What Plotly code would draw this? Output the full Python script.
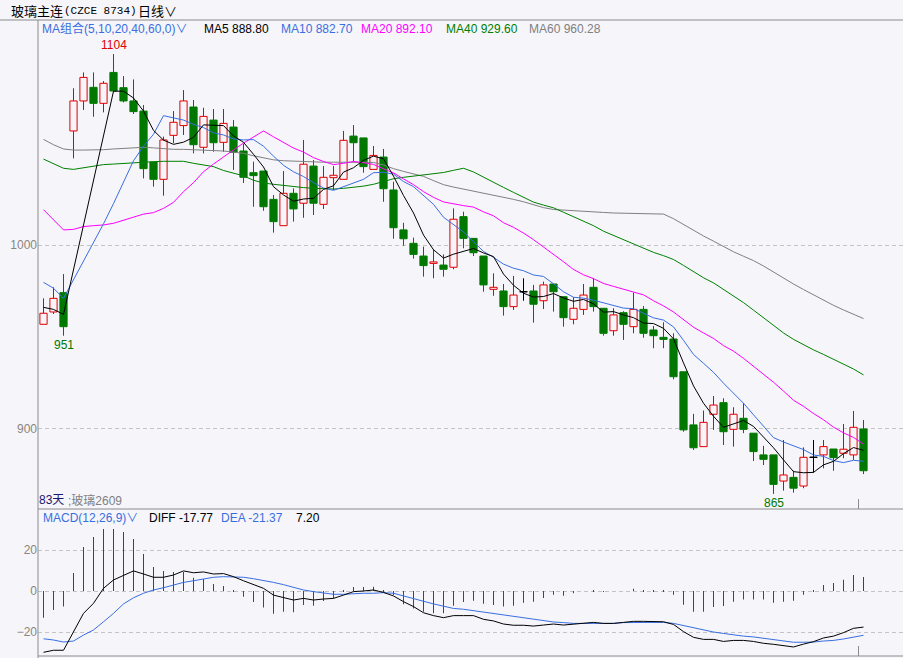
import plotly.graph_objects as go

W, H = 903, 658

# 日线 K线 (83天)
idx = list(range(83))
opens = [
    956.9, 963.6, 974.1, 1062.0, 1078.3, 1085.7, 1077.0, 1093.8, 1085.5, 1078.3,
    1072.8, 1045.1, 1035.7, 1059.6, 1064.9, 1075.0, 1053.1, 1067.9, 1055.8, 1064.1,
    1051.1, 1039.3, 1040.2, 1024.8, 1010.5, 1028.1, 1022.7, 1042.9, 1022.1, 1036.6,
    1035.7, 1059.2, 1058.2, 1041.1, 1047.8, 1029.9, 1008.2, 1000.9, 994.0, 990.0,
    989.1, 987.9, 1015.4, 1003.6, 994.0, 975.9, 975.0, 966.5, 974.6, 975.0,
    969.7, 978.8, 971.9, 959.6, 965.0, 977.0, 965.6, 953.4, 963.2, 955.6,
    965.0, 953.8, 949.8, 948.9, 931.1, 902.2, 890.4, 908.0, 914.3, 899.8,
    905.8, 897.7, 885.9, 885.9, 871.7, 873.7, 869.0, 884.6, 885.9, 889.1,
    886.8, 885.9, 900.0,
]
highs = [
    971.0, 977.0, 984.2, 1085.2, 1093.8, 1093.8, 1089.1, 1103.8, 1091.8, 1090.0,
    1076.1, 1045.1, 1058.9, 1072.8, 1084.2, 1078.8, 1074.6, 1073.9, 1073.9, 1067.9,
    1055.0, 1045.3, 1040.2, 1027.2, 1040.2, 1030.8, 1057.1, 1046.2, 1042.9, 1042.9,
    1062.0, 1065.2, 1058.2, 1053.8, 1052.2, 1034.4, 1012.1, 1004.0, 999.1, 997.7,
    994.9, 1019.9, 1018.1, 1003.6, 994.0, 984.6, 978.8, 983.2, 981.9, 978.3,
    980.1, 978.8, 971.9, 971.6, 978.8, 981.9, 965.6, 965.6, 964.0, 974.1,
    966.8, 956.0, 958.0, 952.0, 931.1, 908.2, 910.0, 917.9, 916.7, 911.8,
    914.0, 897.7, 890.8, 885.9, 894.0, 877.3, 890.0, 894.0, 894.0, 889.1,
    902.7, 909.8, 904.9,
]
lows = [
    956.9, 962.5, 950.7, 1047.1, 1073.4, 1069.7, 1072.1, 1083.0, 1077.5, 1071.2,
    1036.2, 1031.7, 1026.8, 1055.3, 1059.8, 1049.8, 1049.8, 1050.7, 1050.7, 1040.8,
    1033.7, 1020.8, 1018.6, 1006.7, 1010.5, 1012.7, 1014.8, 1016.3, 1019.6, 1029.9,
    1035.7, 1045.3, 1039.3, 1041.1, 1023.5, 1003.4, 999.6, 992.6, 982.8, 981.9,
    982.8, 986.8, 998.2, 994.0, 974.6, 972.4, 961.6, 964.7, 969.7, 957.8,
    965.2, 963.8, 955.6, 956.9, 962.0, 963.8, 950.7, 950.7, 948.4, 952.0,
    949.6, 943.9, 943.9, 927.0, 898.5, 888.6, 890.4, 899.5, 891.3, 890.4,
    897.7, 882.6, 880.4, 864.7, 866.5, 865.4, 867.8, 876.3, 878.6, 877.3,
    884.1, 883.2, 875.5,
]
closes = [
    962.9, 971.0, 955.6, 1078.3, 1091.1, 1077.0, 1087.9, 1083.7, 1078.3, 1072.5,
    1041.5, 1035.7, 1057.1, 1066.7, 1078.3, 1054.5, 1069.9, 1055.6, 1066.1, 1050.4,
    1036.8, 1037.7, 1020.8, 1012.7, 1028.1, 1019.6, 1043.9, 1022.7, 1036.8, 1037.9,
    1056.9, 1055.6, 1042.6, 1048.7, 1030.6, 1009.4, 1003.4, 994.9, 988.8, 990.8,
    986.8, 1014.0, 1003.6, 995.8, 978.3, 977.0, 966.5, 972.8, 974.6, 967.8,
    978.3, 974.6, 960.5, 965.6, 972.8, 966.5, 952.0, 962.0, 956.9, 965.0,
    952.0, 950.7, 948.7, 928.4, 899.5, 889.8, 903.6, 913.0, 898.5, 908.0,
    899.8, 887.7, 883.5, 869.9, 875.0, 867.8, 884.6, 884.6, 890.4, 884.4,
    889.0, 900.9, 877.3,
]

# 均线
ma5 = [
    966.1, 965.0, 962.3, 986.3, 1011.8, 1034.6, 1058.0, 1083.6, 1083.6, 1079.9,
    1072.8, 1062.3, 1057.0, 1054.7, 1055.9, 1058.5, 1065.3, 1065.0, 1064.9, 1059.3,
    1055.8, 1049.3, 1042.4, 1031.7, 1027.2, 1023.8, 1025.0, 1025.4, 1030.2, 1032.2,
    1039.6, 1042.0, 1046.0, 1048.3, 1046.9, 1037.4, 1026.9, 1017.4, 1005.4, 997.4,
    992.9, 995.0, 996.7, 998.1, 995.7, 993.7, 984.2, 978.1, 973.8, 971.7,
    972.0, 973.6, 971.2, 969.4, 970.4, 968.0, 963.5, 963.8, 962.0, 960.5,
    957.6, 957.3, 954.7, 949.0, 935.9, 923.4, 914.0, 906.9, 900.9, 902.6,
    904.6, 901.4, 895.5, 889.8, 883.2, 876.8, 876.2, 876.4, 880.5, 882.4,
    886.6, 889.9, 888.4,
]
ma10 = [
    979.7, 976.5, 971.0, 981.0, 991.8, 1001.8, 1011.5, 1022.5, 1034.0, 1045.8,
    1053.7, 1060.2, 1070.3, 1069.2, 1067.9, 1065.6, 1063.8, 1061.0, 1059.8, 1057.6,
    1057.1, 1057.3, 1053.7, 1048.3, 1043.3, 1039.8, 1037.2, 1033.9, 1031.0, 1029.7,
    1031.7, 1033.5, 1035.7, 1039.3, 1039.5, 1038.5, 1034.5, 1031.7, 1026.9, 1022.1,
    1015.1, 1011.0, 1007.1, 1001.8, 996.5, 993.3, 989.6, 987.4, 986.0, 983.7,
    982.9, 978.9, 974.6, 971.6, 971.1, 970.0, 968.6, 967.5, 965.7, 965.4,
    962.8, 960.4, 959.2, 955.5, 948.2, 940.5, 935.7, 930.8, 924.9, 919.2,
    914.0, 907.7, 901.2, 895.3, 892.9, 890.7, 888.8, 885.9, 885.1, 882.8,
    881.7, 883.0, 882.4,
]
ma20 = [
    1019.2, 1013.6, 1008.2, 1008.5, 1010.0, 1010.5, 1010.9, 1011.8, 1013.5, 1015.5,
    1016.8, 1017.6, 1019.9, 1023.2, 1029.0, 1033.9, 1039.8, 1044.0, 1048.0, 1051.7,
    1055.4, 1058.8, 1062.0, 1058.8, 1055.6, 1052.7, 1050.5, 1047.5, 1045.4, 1043.7,
    1044.4, 1045.4, 1044.7, 1043.8, 1041.4, 1039.2, 1035.9, 1032.8, 1029.0, 1025.9,
    1023.4, 1022.3, 1021.4, 1020.6, 1018.0, 1015.9, 1012.1, 1009.6, 1006.5, 1002.9,
    999.0, 995.0, 990.9, 986.7, 983.8, 981.7, 979.1, 977.5, 975.9, 974.6,
    972.9, 969.7, 966.9, 963.6, 959.7, 955.3, 952.2, 949.2, 945.3, 942.3,
    938.4, 934.1, 930.2, 925.4, 920.6, 915.6, 912.3, 908.4, 905.0, 901.0,
    897.9, 895.4, 891.8,
]
ma40 = [
    1046.7, 1044.4, 1041.7, 1041.1, 1042.0, 1042.9, 1043.7, 1044.0, 1044.4, 1044.7,
    1045.0, 1045.3, 1045.5, 1045.5, 1045.5, 1044.4, 1043.5, 1042.6, 1040.5, 1039.2,
    1037.6, 1035.2, 1033.7, 1033.0, 1032.3, 1031.7, 1031.2, 1030.8, 1030.5, 1030.4,
    1030.8, 1031.3, 1032.0, 1033.0, 1034.5, 1036.0, 1036.8, 1037.4, 1037.9, 1038.8,
    1039.4, 1040.6, 1041.7, 1039.7, 1036.8, 1034.3, 1031.3, 1028.6, 1026.0, 1023.3,
    1021.7, 1020.2, 1017.8, 1015.3, 1012.6, 1010.5, 1007.5, 1005.2, 1002.5, 1000.3,
    998.2, 996.0, 994.2, 992.1, 988.9, 985.6, 982.2, 979.4, 975.9, 972.6,
    968.7, 964.6, 960.6, 956.1, 952.2, 948.7, 945.7, 943.0, 940.5, 937.8,
    935.4, 932.6, 929.4,
]
ma60 = [
    1057.4, 1054.5, 1052.2, 1051.6, 1051.6, 1051.6, 1051.8, 1052.2, 1052.5, 1053.0,
    1053.1, 1052.8, 1052.2, 1052.0, 1052.0, 1051.8, 1051.5, 1051.3, 1051.1, 1050.5,
    1049.8, 1048.5, 1047.2, 1046.3, 1045.8, 1045.5, 1045.3, 1045.1, 1045.0, 1045.0,
    1045.0, 1045.0, 1044.9, 1044.9, 1043.5, 1041.5, 1040.0, 1038.7, 1037.3, 1035.0,
    1032.8, 1031.5, 1030.4, 1029.5, 1028.5, 1027.3, 1026.2, 1024.8, 1023.5, 1021.8,
    1020.3, 1019.3, 1018.9, 1018.6, 1018.3, 1017.9, 1017.7, 1017.4, 1017.3, 1017.4,
    1017.2, 1016.9, 1016.8, 1014.3, 1011.1, 1008.0, 1004.9, 1002.1, 999.1, 996.3,
    993.9, 991.5, 988.6, 985.3, 981.9, 978.8, 975.8, 972.9, 970.0, 967.2,
    964.7, 962.5, 960.0,
]

# MACD(12,26,9)
macd_hist = [
    -13.0, -9.3, -7.6, 8.8, 21.5, 26.3, 30.2, 30.2, 28.8, 25.4,
    18.0, 11.7, 9.8, 9.3, 9.3, 6.5, 5.9, 3.4, 2.4, 0.2,
    -2.8, -5.4, -8.1, -11.1, -10.1, -10.4, -6.8, -7.2, -4.9, -3.6,
    0.5, 2.0, 2.0, 2.1, 0.3, -2.0, -6.5, -8.5, -10.1, -10.9,
    -10.9, -7.2, -5.4, -4.7, -6.2, -6.8, -7.6, -7.2, -5.7, -5.2,
    -3.4, -1.8, -2.3, -1.1, 0.0, 0.2, -0.2, 0.0, 0.0, 1.1,
    0.5, 0.2, 0.2, -1.8, -6.7, -10.1, -10.1, -7.8, -7.3, -5.2,
    -4.2, -4.2, -4.2, -5.7, -5.2, -4.7, -1.8, 0.3, 2.9, 3.9,
    5.5, 7.8, 6.8,
]
diff = [
    -29.9, -28.9, -28.9, -19.8, -10.9, -6.0, 1.3, 5.4, 7.8, 9.8,
    8.3, 6.7, 6.7, 7.8, 9.8, 8.9, 9.3, 8.3, 8.5, 7.0,
    5.0, 3.3, 1.3, -2.0, -3.1, -4.4, -3.6, -4.4, -3.9, -3.6,
    -2.0, -0.3, 0.0, 0.5, -0.7, -2.4, -5.2, -7.6, -10.6, -12.0,
    -13.0, -12.0, -12.0, -12.0, -13.8, -14.6, -16.1, -16.7, -16.7, -17.1,
    -16.6, -16.1, -16.6, -16.1, -15.8, -15.3, -15.8, -15.8, -15.3, -14.8,
    -14.8, -14.8, -15.0, -16.3, -19.8, -22.6, -23.6, -23.6, -24.6, -24.1,
    -24.1, -24.6, -25.5, -26.0, -26.8, -27.3, -25.9, -24.7, -22.9, -22.0,
    -20.3, -18.2, -17.6,
]
dea = [
    -23.3, -23.9, -24.9, -24.4, -21.5, -19.0, -15.0, -10.9, -6.3, -3.3,
    -1.1, 0.5, 1.6, 2.9, 4.2, 5.0, 5.9, 6.7, 7.0, 7.0,
    6.7, 6.0, 5.2, 4.2, 3.1, 1.8, 0.5, -0.3, -1.1, -1.6,
    -1.6, -1.3, -1.1, -1.1, -0.8, -1.1, -2.3, -3.6, -5.0, -6.3,
    -7.3, -8.5, -8.9, -9.6, -10.4, -10.9, -11.7, -12.5, -13.2, -13.8,
    -14.5, -15.1, -15.4, -15.8, -15.8, -15.8, -15.8, -15.8, -15.4, -15.3,
    -15.3, -15.3, -15.3, -15.8, -16.9, -17.9, -18.9, -20.0, -20.7, -21.5,
    -22.0, -22.4, -23.1, -23.7, -24.4, -25.0, -25.0, -24.9, -24.4, -24.1,
    -23.4, -22.4, -21.6,
]

price_ticks = [900, 1000]
macd_ticks = [-20, 0, 20]

RED = '#e00000'
GREEN = '#007800'
BLUE = '#3a6ee0'
MAGENTA = '#ff00ff'
MA40_C = '#008000'
GRAY = '#808080'
BG = '#f5f5fa'
FONT = 'Arial, "Noto Sans CJK SC", sans-serif'


def px(x):
    return x / W


def py(y):
    return 1 - y / H


def candle_color(o, c):
    if c > o:
        return RED
    if c < o:
        return GREEN
    return 'black'


fig = go.Figure()

# 实体
cols = [candle_color(o, c) for o, c in zip(opens, closes)]
fills = [GREEN if col == GREEN else BG for col in cols]
fig.add_trace(go.Bar(
    x=idx,
    base=[min(o, c) for o, c in zip(opens, closes)],
    y=[abs(c - o) for o, c in zip(opens, closes)],
    width=0.72,
    marker=dict(color=fills, line=dict(color=cols, width=1)),
    xaxis='x', yaxis='y', hoverinfo='skip', showlegend=False,
))

# 影线
wicks = {RED: ([], []), GREEN: ([], []), 'black': ([], [])}
for i, o, h, l, c in zip(idx, opens, highs, lows, closes):
    xs, ys = wicks[candle_color(o, c)]
    top, bot = max(o, c), min(o, c)
    if h > top:
        xs += [i, i, None]
        ys += [top, h, None]
    if l < bot:
        xs += [i, i, None]
        ys += [l, bot, None]
    if o == c:
        xs += [i - 0.4, i + 0.4, None]
        ys += [c, c, None]
for col, (xs, ys) in wicks.items():
    fig.add_trace(go.Scatter(x=xs, y=ys, mode='lines', line=dict(color=col, width=1),
                             xaxis='x', yaxis='y', hoverinfo='skip', showlegend=False))

# 均线
for vals, col in [(ma60, GRAY), (ma40, MA40_C), (ma20, MAGENTA), (ma10, BLUE), (ma5, 'black')]:
    fig.add_trace(go.Scatter(x=idx, y=vals, mode='lines', line=dict(color=col, width=1),
                             xaxis='x', yaxis='y', hoverinfo='skip', showlegend=False))

# MACD 柱
fig.add_trace(go.Bar(
    x=idx, y=macd_hist, width=0.1,
    marker=dict(color=[RED if v > 0 else GREEN for v in macd_hist], line=dict(width=0)),
    xaxis='x2', yaxis='y2', hoverinfo='skip', showlegend=False,
))

fig.add_trace(go.Scatter(x=idx, y=dea, mode='lines', line=dict(color=BLUE, width=1),
                         xaxis='x2', yaxis='y2', hoverinfo='skip', showlegend=False))
fig.add_trace(go.Scatter(x=idx, y=diff, mode='lines', line=dict(color='black', width=1),
                         xaxis='x2', yaxis='y2', hoverinfo='skip', showlegend=False))

x_dom = [px(38), 1]
axis_common = dict(showgrid=False, zeroline=False, showticklabels=False, showline=False,
                   range=[-0.55, 85.95], domain=x_dom, fixedrange=True)
yaxis_common = dict(showgrid=True, gridcolor='#c4c4c4', griddash='4px,3px', gridwidth=1,
                    zeroline=False, showline=False, ticks='',
                    tickfont=dict(family='Arial', size=12, color='#8a8580'))

fig.update_layout(
    width=W, height=H,
    margin=dict(l=0, r=0, t=0, b=0),
    paper_bgcolor=BG, plot_bgcolor=BG,
    barmode='overlay',
    showlegend=False,
    xaxis=dict(anchor='y', **axis_common),
    xaxis2=dict(anchor='y2', matches='x', **axis_common),
    yaxis=dict(domain=[py(509), py(20)], range=[856.5, 1122.3], tickvals=price_ticks,
               **yaxis_common),
    yaxis2=dict(domain=[py(656), py(509)], range=[-31.7, 40], tickvals=macd_ticks,
                **yaxis_common),
)

# 边框
line_c = '#8c8c8c'
shapes = [
    dict(type='line', xref='paper', yref='paper', x0=0, x1=1, y0=py(20), y1=py(20)),
    dict(type='line', xref='paper', yref='paper', x0=px(38), x1=1, y0=py(509), y1=py(509)),
    dict(type='line', xref='paper', yref='paper', x0=px(38), x1=1, y0=py(656), y1=py(656)),
    dict(type='line', xref='paper', yref='paper', x0=px(38), x1=px(38), y0=py(658), y1=py(20)),
    dict(type='line', xref='x', yref='paper', x0=81.5, x1=81.5, y0=py(509), y1=py(499)),
    dict(type='line', xref='x', yref='paper', x0=81.5, x1=81.5, y0=py(656), y1=py(646)),
]
for s in shapes:
    s['line'] = dict(color=line_c, width=1)
    fig.add_shape(**s)


def note(text, x, y, color='black', size=12, family=FONT):
    fig.add_annotation(text=text, x=px(x), y=py(y), xref='paper', yref='paper',
                       xanchor='left', yanchor='middle', showarrow=False,
                       font=dict(family=family, size=size, color=color))


# 标题栏
note('玻璃主连', 9, 11, size=13)
note('(CZCE 8734)', 62, 11, size=11, family='"Liberation Mono", monospace')
note('日线∨', 136, 11, size=13)

# 均线标题
note('MA组合(5,10,20,40,60,0)∨', 40, 29, color=BLUE)
note('MA5 888.80', 202, 29)
note('MA10 882.70', 279, 29, color=BLUE)
note('MA20 892.10', 359, 29, color=MAGENTA)
note('MA40 929.60', 444, 29, color=MA40_C)
note('MA60 960.28', 527, 29, color=GRAY)

# MACD 标题
note('MACD(12,26,9)∨', 41, 518, color=BLUE)
note('DIFF -17.77', 147, 518)
note('DEA -21.37', 219, 518, color=BLUE)
note('7.20', 294, 518)

note('83天', 37, 500, color='#1a1a70')
note(';玻璃2609', 66, 501, color=GRAY)

# 高低点标注
hi_i = highs.index(max(highs))
lo_first = lows.index(min(lows[:10]))
lo_i = lows.index(min(lows))
for i, val, anchor, col in [(hi_i, highs[hi_i], 'bottom', RED),
                            (lo_first, lows[lo_first], 'top', GREEN),
                            (lo_i, lows[lo_i], 'top', GREEN)]:
    fig.add_annotation(x=i, y=val, xref='x', yref='y', text=f'{val:.0f}', showarrow=False,
                       xanchor='center', yanchor=anchor,
                       font=dict(family='Arial', size=12, color=col))

# 去掉页面默认的 8px 边距, 让图贴满窗口
fig.write_html('out.html', config={'displayModeBar': False},
               post_script="document.body.style.margin='0';")
